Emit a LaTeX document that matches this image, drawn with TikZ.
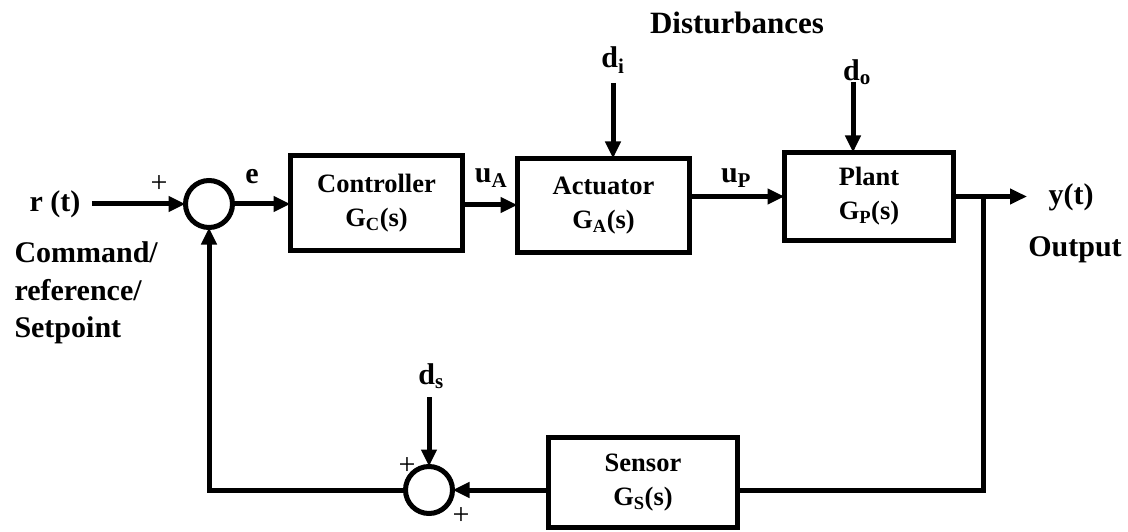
\documentclass[tikz,border=0pt]{standalone}
\usepackage{fontspec}
\setmainfont{Liberation Serif}
\usetikzlibrary{arrows.meta}
\begin{document}
\begin{tikzpicture}[x=1pt,y=-1pt,
  line width=5pt,
  >={Triangle[length=17pt,width=15pt]},
  blk/.style={draw, line width=5pt, inner sep=0pt, outer sep=0pt, align=center,
    font=\fontsize{26.5}{34}\selectfont\bfseries},
  sumnode/.style={draw, circle, line width=5pt, minimum size=47pt, inner sep=0pt, outer sep=0pt},
  lbl/.style={inner sep=0pt, font=\fontsize{30}{37.5}\selectfont\bfseries},
  sgn/.style={inner sep=0pt, font=\fontsize{30}{32}\selectfont}
]
\useasboundingbox (0,0) rectangle (1128,532);

% blocks
\node[blk, minimum width=172pt, minimum height=95pt] (ctrl) at (376.5,203) {Controller\\G\textsubscript{C}(s)};
\node[blk, minimum width=172pt, minimum height=94pt] (act) at (603.5,205.5) {Actuator\\G\textsubscript{A}(s)};
\node[blk, minimum width=169pt, minimum height=88pt] (plant) at (869,196.5) {Plant\\G\textsubscript{P}(s)};
\node[blk, minimum width=189pt, minimum height=90pt] (sens) at (643,482.5) {Sensor\\G\textsubscript{S}(s)};

% summing junctions
\node[sumnode] (s1) at (209,204) {};
\node[sumnode] (s2) at (429,490) {};

% labels
\node[lbl] (rt) at (55,204) {r (t)};
\node[lbl, align=left, anchor=west] (cmd) at (12,293) {Command/\\reference/\\Setpoint};
\node[lbl] (yt) at (1071,197) {y(t)};
\node[lbl] (outl) at (1075,250) {Output};
\node[lbl] (el) at (252,177) {e};
\node[lbl] (ua) at (491,178) {u\textsubscript{A}};
\node[lbl] (up) at (736,178) {u\textsubscript{P}};
\node[lbl] (di) at (613,60) {d\textsubscript{i}};
\node[lbl] (do) at (857,72) {d\textsubscript{o}};
\node[lbl] (dsl) at (431,376) {d\textsubscript{s}};
\node[lbl, font=\fontsize{31}{36}\selectfont\bfseries] (dist) at (737,23) {Disturbances};
\node[sgn] (p1) at (159,184) {+};
\node[sgn] (p2) at (407,466) {+};
\node[sgn] (p3) at (461,516) {+};

% coordinates
\coordinate (ditop) at (613,83);
\coordinate (dotop) at (853,82);
\coordinate (dstop) at (429,397);
\coordinate (br) at (983,196.5);
\coordinate (fb) at (983,490);

% connectors
\draw[->] ([xshift=9pt]rt.east) -- (s1.west);
\draw[->] (s1.east) -- (s1.east -| ctrl.west);
\draw[->] (ctrl.east |- 0,205) -- (act.west |- 0,205);
\draw[->] (act.east |- plant.west) -- (plant.west);
\draw[->] (plant.east) -- ([xshift=-19pt]yt.west |- plant.east);
\draw[->] (ditop) -- (ditop |- act.north);
\draw[->] (dotop) -- (dotop |- plant.north);
\draw[->] (dstop) -- (s2.north);
\draw (br) -- (fb) -- (fb -| sens.east);
\draw[->] (sens.west |- s2.east) -- (s2.east);
\draw[->] (s2.west) -| (s1.south);
\end{tikzpicture}
\end{document}
